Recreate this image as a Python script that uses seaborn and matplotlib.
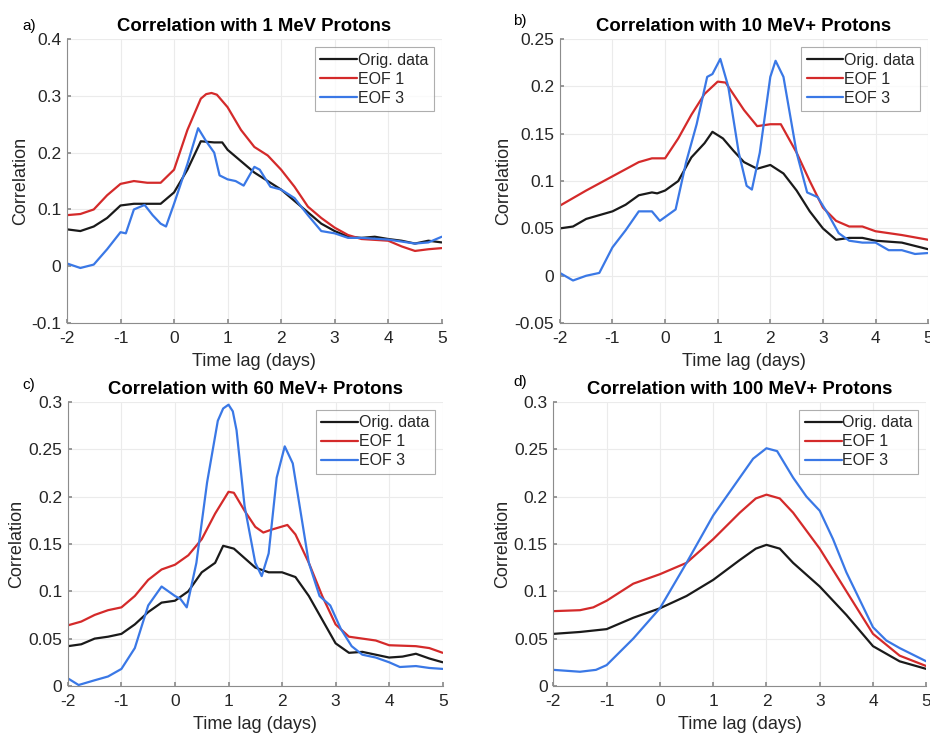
import pandas as pd
import seaborn as sns
import matplotlib.pyplot as plt

# values (time lag in days, correlation)
# a) 1 MeV
a_orig_x = [-2, -1.75, -1.5, -1.25, -1.0, -0.75, -0.5, -0.25, 0, 0.25, 0.5, 0.75, 0.9, 1.0, 1.25, 1.5,
            1.75, 2.0, 2.25, 2.5, 2.75, 3.0, 3.25, 3.5, 3.75, 4.0, 4.25, 4.5, 4.75, 5.0]
a_orig_y = [0.065, 0.062, 0.07, 0.085, 0.107, 0.11, 0.11, 0.11, 0.13, 0.17, 0.22, 0.218, 0.218, 0.205,
            0.185, 0.165, 0.15, 0.135, 0.115, 0.095, 0.075, 0.062, 0.052, 0.05, 0.052, 0.048, 0.045,
            0.04, 0.045, 0.042]
a_eof1_x = [-2, -1.75, -1.5, -1.25, -1, -0.75, -0.5, -0.25, 0, 0.25, 0.5, 0.6, 0.7, 0.8, 1.0, 1.25, 1.5,
            1.75, 2.0, 2.25, 2.5, 2.75, 3.0, 3.25, 3.5, 4.0, 4.25, 4.5, 4.75, 5.0]
a_eof1_y = [0.09, 0.092, 0.1, 0.125, 0.145, 0.15, 0.147, 0.147, 0.17, 0.24, 0.295, 0.303, 0.305, 0.302,
            0.28, 0.24, 0.21, 0.195, 0.17, 0.14, 0.105, 0.085, 0.068, 0.055, 0.048, 0.045, 0.035,
            0.027, 0.03, 0.032]
a_eof3_x = [-2, -1.75, -1.5, -1.25, -1.0, -0.9, -0.75, -0.55, -0.4, -0.25, -0.15, 0, 0.25, 0.45, 0.6,
            0.75, 0.85, 1.0, 1.15, 1.3, 1.5, 1.6, 1.8, 2.0, 2.25, 2.5, 2.75, 3.0, 3.25, 3.5, 4.0, 4.5,
            4.75, 5.0]
a_eof3_y = [0.005, -0.003, 0.003, 0.03, 0.06, 0.058, 0.1, 0.108, 0.09, 0.075, 0.07, 0.11, 0.18, 0.243,
            0.22, 0.2, 0.16, 0.153, 0.15, 0.142, 0.175, 0.17, 0.14, 0.135, 0.12, 0.09, 0.062, 0.058,
            0.05, 0.05, 0.047, 0.04, 0.042, 0.052]

# b) 10 MeV+
b_orig_x = [-2, -1.75, -1.5, -1.0, -0.75, -0.5, -0.25, -0.15, 0, 0.25, 0.5, 0.75, 0.9, 1.1, 1.3, 1.5,
            1.75, 2.0, 2.25, 2.5, 2.75, 3.0, 3.25, 3.5, 3.75, 4.0, 4.5, 5.0]
b_orig_y = [0.05, 0.052, 0.06, 0.068, 0.075, 0.085, 0.088, 0.087, 0.09, 0.1, 0.125, 0.14, 0.152, 0.145,
            0.132, 0.12, 0.113, 0.117, 0.108, 0.09, 0.068, 0.05, 0.038, 0.04, 0.04, 0.037, 0.035, 0.028]
b_eof1_x = [-2, -1.5, -1, -0.5, -0.25, 0, 0.25, 0.5, 0.75, 1.0, 1.15, 1.5, 1.75, 2.0, 2.2, 2.5, 2.75,
            3.0, 3.25, 3.5, 3.75, 4.0, 4.5, 5.0]
b_eof1_y = [0.074, 0.09, 0.105, 0.12, 0.124, 0.124, 0.145, 0.17, 0.192, 0.205, 0.204, 0.175, 0.158,
            0.16, 0.16, 0.13, 0.1, 0.072, 0.058, 0.052, 0.052, 0.047, 0.043, 0.038]
b_eof3_x = [-2, -1.75, -1.5, -1.25, -1.0, -0.75, -0.5, -0.25, -0.1, 0.0, 0.2, 0.4, 0.6, 0.8, 0.9, 1.05,
            1.2, 1.4, 1.55, 1.65, 1.8, 2.0, 2.1, 2.25, 2.5, 2.7, 2.9, 3.1, 3.3, 3.5, 3.75, 4.0, 4.25,
            4.5, 4.75, 5.0]
b_eof3_y = [0.003, -0.005, 0.0, 0.003, 0.03, 0.048, 0.068, 0.068, 0.058, 0.062, 0.07, 0.12, 0.16, 0.21,
            0.213, 0.229, 0.2, 0.13, 0.095, 0.091, 0.13, 0.21, 0.227, 0.21, 0.13, 0.088, 0.083, 0.065,
            0.045, 0.037, 0.035, 0.035, 0.027, 0.027, 0.023, 0.024]

# c) 60 MeV+
c_orig_x = [-2, -1.75, -1.5, -1.25, -1.0, -0.75, -0.5, -0.25, 0, 0.25, 0.5, 0.75, 0.9, 1.1, 1.3, 1.5,
            1.75, 2.0, 2.25, 2.5, 2.75, 3.0, 3.25, 3.5, 3.75, 4.0, 4.25, 4.5, 4.75, 5.0]
c_orig_y = [0.042, 0.044, 0.05, 0.052, 0.055, 0.065, 0.078, 0.088, 0.09, 0.1, 0.12, 0.13, 0.148, 0.145,
            0.135, 0.125, 0.12, 0.12, 0.115, 0.095, 0.07, 0.045, 0.035, 0.036, 0.033, 0.03, 0.031,
            0.034, 0.029, 0.025]
c_eof1_x = [-2, -1.75, -1.5, -1.25, -1.0, -0.75, -0.5, -0.25, 0, 0.25, 0.5, 0.75, 1.0, 1.1, 1.3, 1.5,
            1.65, 1.8, 2.1, 2.25, 2.5, 2.75, 3.0, 3.25, 3.5, 3.75, 4.0, 4.5, 4.75, 5.0]
c_eof1_y = [0.064, 0.068, 0.075, 0.08, 0.083, 0.095, 0.112, 0.123, 0.128, 0.138, 0.155, 0.182, 0.205,
            0.204, 0.185, 0.168, 0.162, 0.165, 0.17, 0.16, 0.13, 0.095, 0.065, 0.052, 0.05, 0.048,
            0.043, 0.042, 0.04, 0.035]
c_eof3_x = [-2, -1.8, -1.5, -1.25, -1.0, -0.75, -0.5, -0.25, 0, 0.1, 0.22, 0.4, 0.6, 0.8, 0.9, 1.0, 1.08,
            1.15, 1.3, 1.5, 1.62, 1.75, 1.9, 2.05, 2.2, 2.5, 2.7, 2.9, 3.1, 3.3, 3.5, 3.75, 4.0, 4.2,
            4.5, 4.75, 5.0]
c_eof3_y = [0.008, 0.001, 0.006, 0.01, 0.018, 0.04, 0.085, 0.105, 0.095, 0.092, 0.083, 0.13, 0.215,
            0.28, 0.293, 0.297, 0.29, 0.27, 0.19, 0.13, 0.116, 0.14, 0.22, 0.253, 0.235, 0.13, 0.095,
            0.085, 0.06, 0.042, 0.033, 0.03, 0.025, 0.02, 0.021, 0.019, 0.018]

# d) 100 MeV+
d_orig_x = [-2, -1.5, -1.0, -0.5, 0, 0.5, 1.0, 1.5, 1.8, 2.0, 2.25, 2.5, 3.0, 3.5, 4.0, 4.5, 5.0]
d_orig_y = [0.055, 0.057, 0.06, 0.072, 0.082, 0.095, 0.112, 0.133, 0.145, 0.149, 0.145, 0.13, 0.105,
            0.075, 0.042, 0.026, 0.018]
d_eof1_x = [-2, -1.5, -1.25, -1.0, -0.5, 0, 0.5, 1.0, 1.5, 1.8, 2.0, 2.25, 2.5, 3.0, 3.5, 4.0, 4.5, 5.0]
d_eof1_y = [0.079, 0.08, 0.083, 0.09, 0.108, 0.118, 0.13, 0.155, 0.183, 0.198, 0.202, 0.198, 0.183,
            0.145, 0.1, 0.055, 0.032, 0.021]
d_eof3_x = [-2, -1.5, -1.2, -1.0, -0.5, 0, 0.5, 1.0, 1.5, 1.75, 2.0, 2.2, 2.5, 2.75, 3.0, 3.25, 3.5,
            4.0, 4.25, 4.5, 5.0]
d_eof3_y = [0.017, 0.015, 0.017, 0.022, 0.05, 0.082, 0.13, 0.18, 0.22, 0.24, 0.251, 0.248, 0.22, 0.2,
            0.185, 0.155, 0.12, 0.062, 0.048, 0.04, 0.026]

series_names = ['Orig. data', 'EOF 1', 'EOF 3']
colors = {'Orig. data': '#1a1a1a', 'EOF 1': '#d42a2a', 'EOF 3': '#3a78e6'}

panels = [
    ('a)', 'Correlation with 1 MeV Protons', (-0.1, 0.4), [-0.1, 0, 0.1, 0.2, 0.3, 0.4],
     [(a_orig_x, a_orig_y), (a_eof1_x, a_eof1_y), (a_eof3_x, a_eof3_y)]),
    ('b)', 'Correlation with 10 MeV+ Protons', (-0.05, 0.25), [-0.05, 0, 0.05, 0.1, 0.15, 0.2, 0.25],
     [(b_orig_x, b_orig_y), (b_eof1_x, b_eof1_y), (b_eof3_x, b_eof3_y)]),
    ('c)', 'Correlation with 60 MeV+ Protons', (0, 0.3), [0, 0.05, 0.1, 0.15, 0.2, 0.25, 0.3],
     [(c_orig_x, c_orig_y), (c_eof1_x, c_eof1_y), (c_eof3_x, c_eof3_y)]),
    ('d)', 'Correlation with 100 MeV+ Protons', (0, 0.3), [0, 0.05, 0.1, 0.15, 0.2, 0.25, 0.3],
     [(d_orig_x, d_orig_y), (d_eof1_x, d_eof1_y), (d_eof3_x, d_eof3_y)]),
]

# axes boxes in figure fractions [left, bottom, width, height]
boxes = [
    [0.072, 0.561, 0.403, 0.386],
    [0.602, 0.561, 0.396, 0.386],
    [0.073, 0.068, 0.403, 0.386],
    [0.595, 0.068, 0.401, 0.386],
]
label_pos = [(0.024, 0.965), (0.552, 0.971), (0.024, 0.477), (0.552, 0.481)]

sns.set_theme(style='white')
plt.rcParams['font.family'] = ['Liberation Sans', 'DejaVu Sans']
plt.rcParams['axes.unicode_minus'] = False
txt = '#262626'

fig = plt.figure(figsize=(9.3, 7.36), dpi=100)
fig.patch.set_facecolor('white')

for (lab, title, ylim, yticks, data), box, lp in zip(panels, boxes, label_pos):
    ax = fig.add_axes(box)
    frames = []
    for name, (xs, ys) in zip(series_names, data):
        frames.append(pd.DataFrame({'lag': xs, 'corr': ys, 'series': name}))
    df = pd.concat(frames, ignore_index=True)
    sns.lineplot(data=df, x='lag', y='corr', hue='series', palette=colors, linewidth=1.6,
                 ax=ax, sort=False, estimator=None)
    ax.set_xlim(-2, 5)
    ax.set_ylim(*ylim)
    ax.set_xticks(range(-2, 6))
    ax.set_yticks(yticks)
    ax.set_yticklabels([('%g' % t) for t in yticks])
    ax.grid(True, color='#ebebeb', linewidth=0.8)
    ax.set_axisbelow(True)
    for s in ['top', 'right']:
        ax.spines[s].set_visible(False)
    for s in ['left', 'bottom']:
        ax.spines[s].set_color('#8c8c8c')
        ax.spines[s].set_linewidth(0.8)
    ax.tick_params(direction='in', length=3, color='#8c8c8c', labelsize=12.5, labelcolor=txt,
                   left=True, bottom=True)
    ax.tick_params(axis='x', pad=6)
    ax.tick_params(axis='y', pad=4)
    ax.set_xlabel('Time lag (days)', fontsize=13, color=txt, labelpad=5)
    ax.set_ylabel('Correlation', fontsize=13, color=txt, labelpad=2)
    ax.set_title(title, fontsize=13.3, fontweight='bold', color='black', pad=6)
    leg = ax.legend(loc='upper right', fontsize=11.5, frameon=True, fancybox=False,
                    handlelength=2.3, handletextpad=0.05, borderpad=0.35, labelspacing=0.25,
                    borderaxespad=0.5)
    leg.get_frame().set_edgecolor('#9a9a9a')
    leg.get_frame().set_linewidth(0.8)
    for t in leg.get_texts():
        t.set_color(txt)
    fig.text(lp[0], lp[1], lab, fontsize=11, color='black', va='center')

plt.savefig('out.png', dpi=100, facecolor='white')
